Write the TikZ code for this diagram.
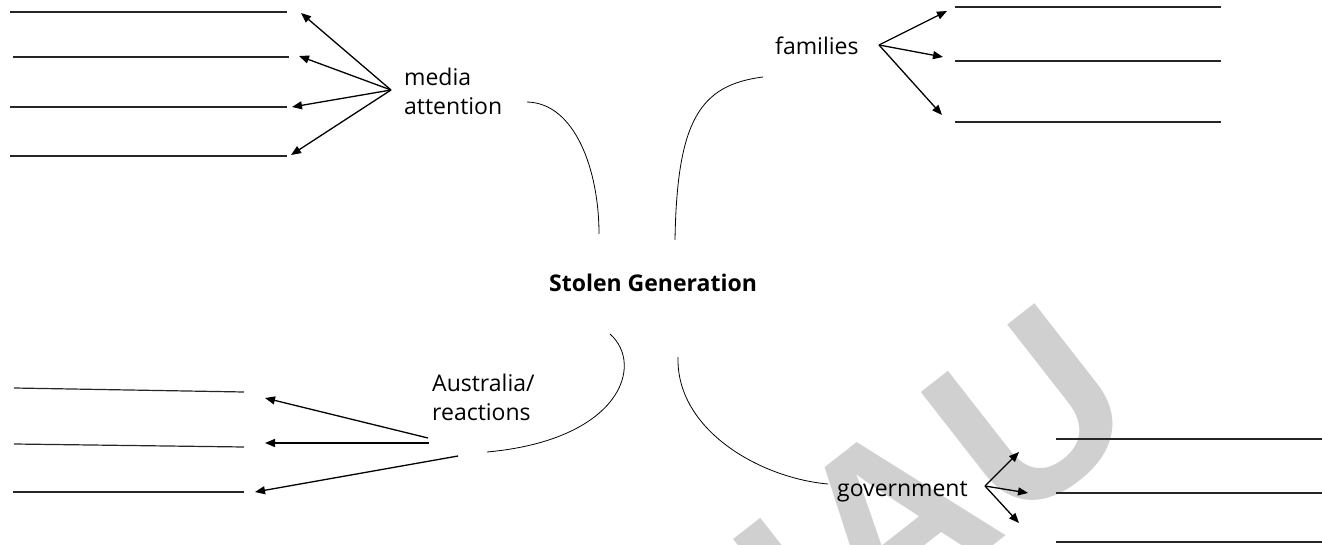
\documentclass[tikz,border=0pt]{standalone}
\usepackage{fontspec}
\setmainfont{Open Sans}
\newfontfamily\wmfont{Liberation Sans}
\usetikzlibrary{arrows.meta}
\definecolor{wmgray}{RGB}{208,208,208}
\tikzset{
  lbl/.style={font=\fontsize{23}{29}\selectfont, inner sep=0pt, align=left},
  blank/.style={line width=1.2pt, black!85},
  arr/.style={line width=1.3pt, -{Triangle[length=10pt,width=8pt]}},
  curve/.style={line width=0.8pt},
  wm/.style={font=\wmfont\bfseries\fontsize{240}{240}\selectfont, text=wmgray, inner sep=0pt}
}
\begin{document}
\begin{tikzpicture}[x=1pt,y=-1pt]
\useasboundingbox (0,0) rectangle (1322,545);
% watermark
\begin{scope}
\clip (0,0) rectangle (1322,545);
\node[wm, rotate=38] (wmark) at (935,488) {IAU};
\end{scope}
% center
\node[font=\fontsize{23}{29}\selectfont\bfseries, inner sep=0pt, anchor=base] (sg) at (653,291) {Stolen Generation};
% labels
\node[lbl, anchor=west] (media) at (404,91) {media\\attention};
\node[lbl, anchor=base west] (fam) at (775,55) {families};
\node[lbl, anchor=west] (aus) at (432,397) {Australia/\\reactions};
\node[lbl, anchor=base west] (gov) at (837,496) {government};
% curves
\draw[curve] (527,102) .. controls (575,103) and (599,170) .. (599,234);
\draw[curve] (763,77) .. controls (700,85) and (677,120) .. (675,240);
\draw[curve] (610,334) .. controls (645,365) and (620,440) .. (487,452);
\draw[curve] (678,357) .. controls (676,430) and (760,478) .. (828,484);
% media attention
\coordinate (mo) at (391,90);
\coordinate (mt1) at (301,13);
\coordinate (mt2) at (299,56);
\coordinate (mt3) at (292,107);
\coordinate (mt4) at (291,155);
\foreach \t in {mt1,mt2,mt3,mt4} \draw[arr] (mo) -- (\t);
\coordinate (ml1a) at (10,12); \coordinate (ml1b) at (287,12);
\coordinate (ml2a) at (13,57); \coordinate (ml2b) at (289,57);
\coordinate (ml3a) at (10,107); \coordinate (ml3b) at (287,107);
\coordinate (ml4a) at (10,156); \coordinate (ml4b) at (287,156);
\draw[blank] (ml1a) -- (ml1b); \draw[blank] (ml2a) -- (ml2b);
\draw[blank] (ml3a) -- (ml3b); \draw[blank] (ml4a) -- (ml4b);
% families
\coordinate (fo) at (879,45);
\coordinate (ft1) at (947,11);
\coordinate (ft2) at (943,57);
\coordinate (ft3) at (942,115);
\foreach \t in {ft1,ft2,ft3} \draw[arr] (fo) -- (\t);
\coordinate (fl1a) at (955,7); \coordinate (fl1b) at (1221,7);
\coordinate (fl2a) at (955,61); \coordinate (fl2b) at (1221,61);
\coordinate (fl3a) at (955,122); \coordinate (fl3b) at (1221,122);
\draw[blank] (fl1a) -- (fl1b); \draw[blank] (fl2a) -- (fl2b); \draw[blank] (fl3a) -- (fl3b);
% australia
\coordinate (ao1) at (428,438); \coordinate (at1) at (265,398);
\coordinate (ao2) at (429,443); \coordinate (at2) at (265,443);
\coordinate (ao3) at (458,456); \coordinate (at3) at (255,492);
\draw[arr] (ao1) -- (at1); \draw[arr] (ao2) -- (at2); \draw[arr] (ao3) -- (at3);
\coordinate (al1a) at (14,388); \coordinate (al1b) at (244,392);
\coordinate (al2a) at (14,444); \coordinate (al2b) at (244,447);
\coordinate (al3a) at (13,492); \coordinate (al3b) at (244,492);
\draw[blank] (al1a) -- (al1b); \draw[blank] (al2a) -- (al2b); \draw[blank] (al3a) -- (al3b);
% government
\coordinate (go) at (985,486);
\coordinate (gt1) at (1019,452);
\coordinate (gt2) at (1028,493);
\coordinate (gt3) at (1019,523);
\foreach \t in {gt1,gt2,gt3} \draw[arr] (go) -- (\t);
\coordinate (gl1a) at (1056,439); \coordinate (gl1b) at (1322,439);
\coordinate (gl2a) at (1056,493); \coordinate (gl2b) at (1322,493);
\coordinate (gl3a) at (1056,542); \coordinate (gl3b) at (1322,542);
\draw[blank] (gl1a) -- (gl1b); \draw[blank] (gl2a) -- (gl2b); \draw[blank] (gl3a) -- (gl3b);
\end{tikzpicture}
\end{document}
